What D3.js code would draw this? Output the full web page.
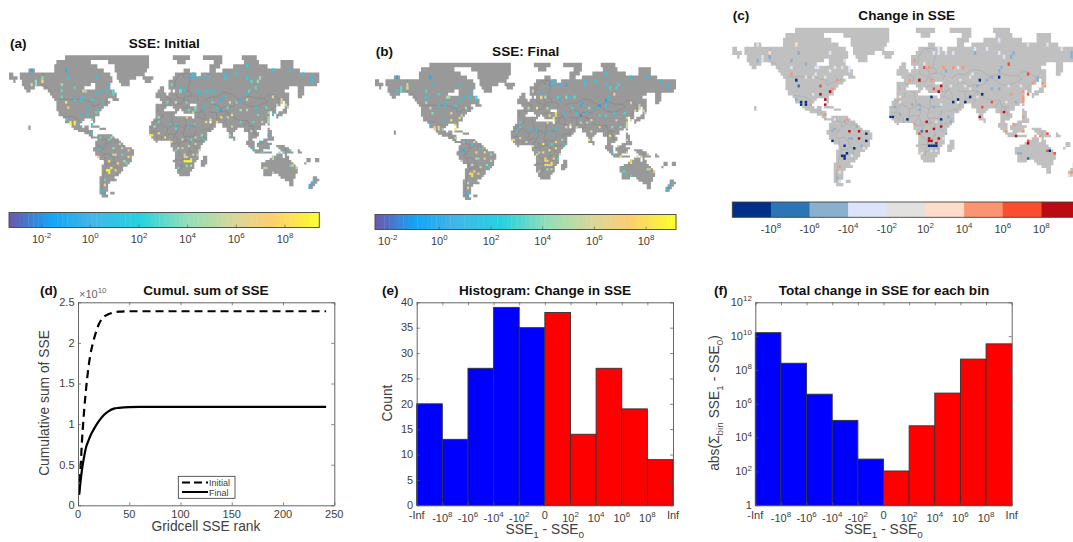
<!DOCTYPE html>
<html>
<head>
<meta charset="utf-8">
<script src="https://cdn.jsdelivr.net/npm/d3@7"></script>
<style>
body { margin: 0; background: #fff; }
svg { display: block; font-family: "Liberation Sans", Arial, sans-serif; }
</style>
</head>
<body>
<svg id="fig" width="1073" height="542"></svg>
<script>
// ---- chart values ----
const rankInitial = [1, 2, 3, 4, 5, 6, 8, 10, 12, 15, 18, 20, 23, 26, 30, 35, 40, 50, 242];
const cumInitial = [0.13, 0.34, 0.58, 0.82, 1.0, 1.17, 1.45, 1.68, 1.85, 2.02, 2.15, 2.22, 2.29, 2.33, 2.355, 2.375, 2.385, 2.39, 2.39];
const rankFinal = [1, 2, 3, 4, 5, 6, 8, 10, 13, 16, 20, 25, 30, 35, 40, 50, 60, 242];
const cumFinal = [0.13, 0.24, 0.35, 0.45, 0.53, 0.6, 0.72, 0.79, 0.88, 0.95, 1.03, 1.11, 1.16, 1.19, 1.2, 1.21, 1.212, 1.212];

const binEdgeLabels = ["-Inf", "-10^{8}", "-10^{6}", "-10^{4}", "-10^{2}", "0", "10^{2}", "10^{4}", "10^{6}", "10^{8}", "Inf"];
const binCounts = [20, 13, 27, 39, 35, 38, 14, 27, 19, 9];
const binTotals = [1.6e10, 2.5e8, 3.7e6, 1.05e5, 540, 107, 5e4, 4.3e6, 4.4e8, 3.5e9];

const cumTicksX = [0, 50, 100, 150, 200, 250];
const cumTicksY = [0, 0.5, 1, 1.5, 2, 2.5];
const countTicks = [0, 5, 10, 15, 20, 25, 30, 35, 40];
const totalTicks = [1, 1e2, 1e4, 1e6, 1e8, 1e10, 1e12];

const sseBarTicks = [-2, 0, 2, 4, 6, 8];
const changeBarLabels = ["-10^{8}", "-10^{6}", "-10^{4}", "-10^{2}", "10^{2}", "10^{4}", "10^{6}", "10^{8}"];
const changeThresholds = [-8, -6, -4, -2, 2, 4, 6, 8];
const changeColors = ["#002f87", "#2b75b5", "#8ab0d0", "#dce4fa", "#e2e1df", "#fedcc9", "#fb9470", "#fb4d2f", "#bb0a12"];
const sseStops = [0, 0.13, 0.26, 0.42, 0.57, 0.73, 0.85, 1];
const sseStopColors = ["#6b5bb0", "#12a6f5", "#42b5e8", "#24d2e0", "#90dfb8", "#d9d79a", "#fdcd70", "#fcfc30"];

// gridcells: lon, lat, log10 SSE initial, log10 SSE final, signed log10 change
const northAmericaCells = [
  [-153,71,-0.8,-0.5,0], [-115,71,-0.7,-0.5,3], [-111,66,1.5,0.5,-5], [-141,66,4,5.5,3],
  [-141,64,6.8,5,-5], [-141,62.5,7,5.5,-5], [-150,64,4,3.5,-3], [-154,61,6.2,2,-5],
  [-150,61,4,3.5,0], [-118,61,4.2,3,-5], [-103,59,3,3,-5], [-79,66,1,1.5,-3],
  [-120,55,3,2.5,-3], [-94,55,5.5,5,-3], [-91,55,5.5,4.5,-3], [-74,57,0.5,0.8,0],
  [-67,57,1.5,2,0], [-79,53.5,1.5,1.5,-3], [-58,55,2,2,-3], [-58,52.5,3,2,-3],
  [-95,51,1.5,1.5,-3], [-120,50,3,5,5], [-103,49.7,1.5,2,0], [-97,49.7,1.5,1.5,0],
  [-71,46,1.8,5,5], [-113,46,8.2,6,-9], [-111,41,6.8,4,-7], [-88,41,0.3,6.5,7],
  [-75.5,38.5,2,5,5], [-78,35,3,8,9], [-88,33,2,8.5,9], [-96,33,0,1,0],
  [-83,29,4,8,9], [-83,23.5,1.5,8,9], [-115,29.5,3,2,-5], [-108,26,8.8,7,-9],
  [-105,26,9,7,-9], [-108,23.5,9,7,-9], [-104,24,8.6,6.5,-9], [-98,24,1,5,5],
  [-83,14.5,2,5,5], [-61,9,4,6,5], [-65,60,0.3,0.6,0], [-85,48,2.2,2.5,0]
];
const southAmericaCells = [
  [-73,8,3,3,-3], [-63,5,3,2,-5], [-52,2,5,3,-5], [-75,-2,-0.2,-0.3,-5],
  [-76,-4,0.5,0.5,-5], [-77,-14,8,5,-9], [-60,-3,4,8,8], [-50,-3,5,8,9], [-42,-7,7,4,-9],
  [-60,-11,6,5,-6], [-56,-11,6,4,-6], [-50,-12,3,7,8], [-42,-14,8,5,-9], [-65,-20,8.5,6,-9],
  [-55,-22,8.2,5,-9], [-47,-19,5,4,-5], [-61,-26,9.3,7,-9], [-63,-28,9.4,7.5,-9],
  [-65,-31,9.4,8,-9], [-66,-29,9.4,8,-9], [-57,-30,7,7,-4], [-70,-40,3,5,5], [-72,-50,1.5,0.5,-5],
  [-70,-45,6,6,0], [-68,-52,-0.5,0,0], [-44,-22,3,2.5,0]
];
const africaCells = [
  [-7,31,4,3,3], [-6,27,3,3,3], [-12,21,4,2,-5], [-15,12,8.5,7,-9], [-16,10,9,7,-9],
  [-6,13,7,6,-6], [2,9.5,8.5,6,-9], [7,23.5,2,1,-6], [13,23.5,2,1,-6], [14,19.5,3,1,-6],
  [28,20,2,2,-5], [36,24,2.5,2,-3], [21,5,5,8.5,9], [37,8,5,8,-9], [37,1,5,8.5,9],
  [31,6,3,3,0], [29,-2,5,8.5,9], [21,-4,5,8,9], [16,-5,6,5,-8], [14,-7,3,6,6],
  [24,-12,6,8,8], [24,-14,7,8,8], [34,-11,6,8,8], [26,-15,6,8,8], [32,-17,6,8.5,9],
  [23,-20,9.4,8,-9], [25.5,-20,9.4,8,-9], [28,-20,9.4,7.5,-9], [30,-20,9.2,7,-9],
  [17,-26,3,5,3], [25,-24,4,5,0], [30,-23,5,5,0], [8,3,7,6,5],
  [40,-6,6,5,-5], [38,-11,5,3,0], [46,7,2,2,-5], [44,12,4,4,-6]
];
const eurasiaCells = [
  [8,61,3,5,5], [18,58,1,1,0], [18,55,3,7,7], [24,57,1.5,5,5], [4,45,3,5,5], [14,45,5,8.5,9],
  [27,45,3,5,5], [36,41,4,8.5,9], [29,37.5,3,7,7], [33,35,5,8.5,9], [37,37.5,3,6,5],
  [27,31,8,6,-9], [33,69.5,1,1.3,-3], [28,65.5,-0.3,0,-3], [33,65.5,0.5,0.8,-3], [40,65.5,0.4,0.6,-3],
  [49,65.5,0,-0.3,-3], [70,69,1,1,-3], [70,66.5,2,2,-5], [84,69,2,2,-3], [97,74,2,2,-3],
  [95,66,2,2,-3], [100,63.5,3,3,-3], [111,66,4,3,-5], [108,63.5,4,3,-5], [106,59,3,6,6], [98,57,3,2,-5],
  [171,66,1,1,-5], [171,63.5,1,1,-5], [160,68,1.5,1.5,0], [125,70,1.5,1.5,0], [145,71,1,1,0],
  [39,55,1,3,5], [49,55,2,4,5], [54,57,1,1,-3], [59,57,1,3.5,5], [41,53,0.5,0.3,-5], [68,52,0,0,-3],
  [65,48,-0.3,0,0], [74,41,3,1,-6], [76,45,6,4,-9], [84,45,3,1,-6], [88,49,0,-1,-5], [95,49,5,2,-9],
  [95,52.5,1,-1,-6], [88,39.5,5,3,-5], [95,39.5,5,3,-5], [126,51.5,6.5,7,7], [136,48,6,5,-5],
  [136,46,7,6,-5], [131,43,5,6,5], [141,43,5,6,5], [143,41,5,5,5], [118,41,3,3,0], [107,42,2,2,0],
  [121,35,4,6,5], [126.5,33,1,7,7], [121,31,5,6,5], [121,28,5,6,5], [121,26,4,5,5],
  [108,33,3,5,5], [104,26,3,4,3], [113,26,5,4,-5], [89,26,3,7,7], [79,21.5,5,6,6],
  [76.5,11,4,8.5,9], [101,17,5,8.5,9], [121,11,0.5,5,5], [49,26,8,6,-9], [54,28.5,8,6,-9],
  [62,26,8,5,-9], [67,32,8,5,-9], [79,33,8.5,6,-9], [74,30,5,5,0], [60,40,2,2,0],
  [66,38,-1.3,-1.5,0], [46,40,1,1,0], [56,45,3,3,0]
];
const oceaniaCells = [
  [112,3,1,5,5], [121,-5,0.5,5,5], [113,-9,3,8,8], [133,-9,4,6,5], [139,-10,3,6,5],
  [146,-7,3,7,7], [126,-13,5,7,7], [126,-16,5,8.5,9], [145,-23,3,6,6], [147.5,-23,8,5,-9],
  [153,-27,5,7.5,7], [117,-27,5,3,-5], [119.5,-27,5,3,-5], [126,-31,5,3,-7],
  [173,-38,0,0.5,3], [171,-43,-0.6,-0.5,4], [168,-46,0,0.3,3], [103,-3,2,2,5]
];

// land outline, lon/lat
const landPolygons = [
  // north america
  [[-168,65.5],[-166,68.5],[-162,67],[-157,71],[-141,69.7],[-128,70],[-115,68],[-108,68],[-95,68],[-94,72],[-88,68],[-82,69],[-78,67],[-73,62],[-70,61],[-65,60],[-64,58],[-61,56],[-56,52.5],[-60,50],[-66,50],[-70,47],[-65,49],[-65,47],[-61,46],[-66,44],[-70,43.5],[-71,41.5],[-74,40.5],[-76,37],[-75.5,35],[-79,33],[-81,31],[-80,27],[-81,25],[-82.5,28],[-84,30],[-89,30],[-94,29.5],[-97,27.5],[-97.5,22],[-95,18.5],[-91,18.5],[-90.5,21],[-87,21.5],[-88,16],[-84,15.5],[-83.5,11],[-81,9],[-77.5,8.5],[-78,7.5],[-81,7.5],[-85,10],[-88,13],[-94,16],[-100,17],[-105,20],[-106,23],[-110,27.5],[-113,31],[-115,31],[-112,26],[-109.5,23],[-112,25],[-115,29],[-117,32.5],[-120.5,34.5],[-124,40],[-124.5,48],[-128,51],[-132,55],[-137,59],[-145,60.5],[-150,60],[-153,58],[-160,55],[-158,58],[-162,60],[-165,62],[-161,64],[-168,65.5]],
  // arctic canada
  [[-127,74],[-120,77],[-105,80],[-65,80],[-72,76],[-80,75],[-60,66],[-65,61],[-78,61],[-78,68],[-95,68],[-127,69]],
  [[-70,80],[-20,80],[-18,76],[-22,70],[-32,68],[-40,65],[-43,60],[-50,62],[-54,68],[-58,75],[-65,77]],
  [[-59,48],[-56,51.5],[-53,47]],
  [[-85,22],[-80,23],[-74,20],[-78,20]],
  [[-74,19.5],[-69,19.5],[-68.5,18.2],[-74,18.2]],
  [[-24,65.5],[-15,66.5],[-14,65],[-19,63.3],[-22,64]],
  [[-158,22],[-155,22],[-155,19]],
  [[-180,69],[-175,67.5],[-170,66],[-173,64.5],[-180,65]],
  // south america
  [[-77.5,8.5],[-75,11],[-71.5,12.5],[-68,11],[-62,10.5],[-57,6],[-52,5],[-50,1],[-44,-2.5],[-38,-4],[-35,-6],[-35,-9],[-39,-14],[-39,-18],[-41,-22],[-48,-25.5],[-48.5,-28],[-53,-33.5],[-58,-34.5],[-57,-38],[-62,-39],[-65,-41],[-65,-45],[-68,-50],[-68,-53],[-65,-55],[-71,-54],[-75,-50],[-73,-42],[-73,-37],[-71,-30],[-70,-18],[-76,-14],[-81,-6],[-80,-2],[-80,1],[-77.5,4]],
  [[-61,-51],[-58,-51],[-58,-52.5],[-61,-52.5]],
  // africa
  [[-6,35.8],[3,37],[10,37.3],[11,33.5],[15,32.3],[20,31],[20,33],[25,32],[32,31.3],[34,28],[37,21],[39,15.5],[43,11.5],[51,12],[49,7],[42,-1],[39,-6],[40.5,-15],[35,-20],[35,-24],[32.5,-28],[27,-34],[20,-35],[18,-33],[15,-27],[12,-18],[13.5,-10],[9,-1],[9.5,4],[5,5.5],[1,6],[-4,5],[-8,4.5],[-13,9],[-17.5,14.7],[-16,21],[-13,27],[-10,30]],
  [[49,-12.5],[50,-16],[47,-25],[44,-25],[43.5,-20],[45,-16]],
  // eurasia
  [[-9.5,37],[-9,43.5],[-2,43.5],[-1,46],[-4.5,48.3],[2,51],[8,54],[8,57],[10.5,57.5],[10,54],[14,54],[20,55],[21,58],[24,59.5],[29,60],[23,60],[21.5,63],[25,65.5],[22,65.7],[17.5,62],[18.5,60],[16.5,56.5],[13,55.5],[11,59],[6,58],[5,62],[14,68],[25,71],[31,70],[41,67],[40,65],[35,64.5],[44,66],[44,68],[55,68.5],[68,68.5],[67,72],[73,72.5],[74,68],[75,72],[87,74],[105,77.5],[113,74],[130,71],[140,72.5],[160,70],[170,70],[180,69],[180,65],[177,62.5],[170,60],[163,60],[162,56],[157,51],[155.5,57],[163,62],[156,61],[143,59.3],[135,54.5],[141,53],[135,44],[130,42.5],[127.5,39.5],[129.5,37],[127,34.5],[126,37],[125,39.5],[121,39],[118,39],[122,37],[119,35],[122,31],[120,26],[114,22.5],[108,21.5],[106,19],[109,13],[107,10.5],[105,9],[103,11],[100,13.5],[100,9],[104,1.5],[101,3],[98,8],[98,15],[94,16],[94,19],[91.5,22.5],[88,21.7],[85,19.5],[80,15],[80,11],[77.5,8],[75,13],[73,20],[69,22],[67,25],[61,25],[57,26],[56,27],[51,28],[48,30],[51,25],[54,24],[56,26],[60,22.5],[57,18.5],[52,16],[45,13],[43,13],[39,21],[35,28],[34.5,31],[36,36],[30,36.3],[27,37],[27,40],[32,41.8],[37,41],[41.5,41.5],[37,45],[38,47],[33,46],[30,46],[28,42],[26,40.5],[23,40],[23,36.5],[20,40],[14,45],[12,44],[16,41],[18.5,40],[16,38],[12,42],[8,44],[3,43],[0,39.5],[-2,36.7],[-5.5,36]],
  [[11,80],[30,80],[25,77],[15,77]],
  [[45,80],[68,80],[60,78],[50,78]],
  [[52,71],[55,75],[68,77.5],[65,75],[57,70.5]],
  [[89,80],[108,80],[105,78],[95,78]],
  [[137,76],[150,76],[150,74],[137,74]],
  [[142,54],[143.5,54],[143,47],[142,46]],
  [[130,33],[131,31],[136,34],[141,36],[142,40],[141,45.5],[145,44],[141,41.5],[139,38],[135,36],[130,34]],
  [[120,25],[122,25],[121,22]],
  [[108.5,20],[111,20],[110,18]],
  [[80,9.5],[82,7.5],[80.5,6]],
  [[-5.5,50],[1.5,51.2],[1.5,53],[-2,56],[-2,58],[-5,58.5],[-6,56],[-3,54],[-5,52]],
  [[-10,52],[-6,52],[-6,55.3],[-10,54]],
  [[12.5,38],[15.5,38],[15,36.8]],
  [[8,41],[9.5,41],[9.5,39],[8,39]],
  // maritime asia, oceania
  [[120,18.5],[122.5,18.5],[124,13],[126,9],[126,6],[122,7],[120.5,14]],
  [[109,1.5],[114,4],[117,7],[119,5],[118,1],[116,-4],[110,-3]],
  [[95,5.5],[98,4],[104,-2],[106,-6],[102,-5],[98,0]],
  [[105,-6],[114,-7],[114.5,-8.5],[106,-8]],
  [[119,-5],[120,1.5],[125,1.5],[122,-1],[123,-5]],
  [[131,-1],[141,-2.5],[147,-6],[151,-10.5],[143,-9],[138,-8],[133,-4]],
  [[116,-8],[125,-8],[125,-10],[116,-9.5]],
  [[114,-22],[122,-18],[126,-14],[130,-12],[136,-12],[136,-15],[140,-17.5],[142,-11],[146,-19],[153,-26],[153,-31],[150,-37.5],[146,-39],[140,-38],[136,-35],[131,-31.5],[124,-33],[116,-35],[115,-31]],
  [[144.5,-40.5],[148.5,-40.5],[148,-43.5],[146,-43.5]],
  [[173,-34.5],[178.5,-37.5],[175,-41.5],[174,-39]],
  [[172.5,-40.5],[174,-42],[170,-46.5],[166.5,-46]],
  [[155,-6],[161,-9],[160,-10],[156,-8]],
  [[167,-15],[168,-15],[168.5,-18],[167,-18]],
  [[177,-17],[179,-17],[179,-19],[177,-19]],
  [[164,-20],[167,-22],[166.5,-22.5],[164,-21]]
];
// inland water and channels that stay white on the grid
const waterPolygons = [
  [[-92,61],[-80,61.5],[-80,57],[-85,56.5],[-92,58]],
  [[-92,71],[-87,71],[-87,69],[-92,69]],
  [[-85,76.5],[-70,76.5],[-62,72],[-80,74]]
];
const borderLines = [
  [[-141,69.7],[-141,60],[-135,59],[-130,55]], [[-123,49],[-95,49],[-83,46],[-82,42],[-76,44],[-70,46],[-67,47],[-67,45]],
  [[-117,32.5],[-106,31.7],[-101,29.5],[-97,26]], [[-92,14.5],[-91,18],[-88,18]], [[-88,16],[-89,14]], [[-83,15],[-87,13]], [[-84,11],[-86,11]], [[-83,10],[-83,8]],
  [[-72,12],[-72,7],[-67,6],[-67,1.5]], [[-60,5],[-64,2],[-67,1.5],[-70,-4],[-74,-7.5],[-70,-11],[-65,-10],[-60,-14],[-58,-20],[-55,-24],[-54,-27],[-57,-30],[-53.5,-33.5]],
  [[-80,-3.5],[-75,-1],[-70,-4]], [[-78.5,1.5],[-75,-1]], [[-70,-11],[-69,-17],[-70,-18]], [[-69,-17],[-67,-23],[-70,-33],[-72,-45],[-72,-52]], [[-67,-23],[-62,-22],[-58,-20]], [[-62,-22],[-57.5,-25],[-54.5,-26]],
  [[-60,8],[-60,5]], [[-57,6],[-57,2]], [[-54,6],[-54,2]],
  [[-2,35],[-1,32],[-8.5,28],[-13,27.5]], [[8.5,37],[8,32],[9.5,30]], [[9.5,30],[10,25],[12,23.5]], [[25,32],[25,22]], [[25,22],[37,22]], [[12,23.5],[15,23],[24,19.5],[25,22]],
  [[-12,15],[-5,25],[-8.5,27]], [[-5,25],[4,19],[12,23.5]], [[4,19],[3.5,15],[1,13]], [[3.5,12],[14,13]], [[15,23],[15.5,16],[13.5,13.5]], [[24,19.5],[22,13],[23,10]],
  [[14,10],[15,7.5],[22,4],[27,5],[23,10]], [[24,10],[34,10],[36,14],[37,18]], [[34,10],[36,4.5],[42,4],[48,8],[43,11]], [[34,-1],[39.5,-4.7]], [[36,4.5],[34,-1]],
  [[30,4],[30,-1],[29,-4.5],[31,-8.5],[28.5,-8],[28,-12],[22,-11],[22,-13],[12.5,-6]], [[27,5],[18,3.5],[17,-1],[14,-4.5],[12.5,-6]], [[12,-17],[23,-18],[25,-18]], [[22,-13],[22,-18]], [[25,-18],[33,-14],[33,-9.5]],
  [[17,-29],[20,-28],[20,-22],[25,-18]], [[20,-25],[29,-22],[32,-22]], [[33,-14],[30,-16],[33,-20],[32,-26]], [[40,-10.5],[35,-11.5],[33,-9.5]], [[-16,16.5],[-12,15]], [[-17,21],[-13,21],[-13,23],[-8.5,27]], [[-12,15],[-5.5,15.5]],
  [[-12,12.5],[-8,10],[-8,7.5]], [[-3,11],[-3,5]], [[1,11],[1.5,6]], [[3,12],[3,6.5]], [[14,13],[9,5]], [[9.5,2.3],[16,2],[15,7.5]],
  [[-1.5,43.3],[3,42.5]], [[-7,37],[-7,42]], [[2.5,51],[6,49.5],[8,49],[7.5,47.5],[6.5,44]], [[14,54],[15,51]], [[15,51],[23,49]], [[23,54],[24,51],[23,49]], [[38,47],[40,50],[34,52],[31,52],[24,51]], [[28,56],[31,55],[31,52]], [[28,60],[28,56],[21,55.5],[23,54]],
  [[29,60],[30,65],[29,69],[25,69],[21,69],[24,66]], [[12,59],[13,64],[18,68.5],[21,69]], [[14,45],[20,45],[22,48],[27,48],[30,46]], [[20,40],[22,41],[26,41],[28,42]],
  [[47,48],[53,51],[61,51],[69,55],[77,54],[87,49]], [[52,42],[56,45],[60,44],[66,41],[70,42],[80,42],[87,49]], [[53,37],[61,36],[66,37.5],[74,37]], [[87,49],[97,43],[105,42],[112,44],[120,47],[116,50],[107,50],[98,52],[87,49]], [[116,50],[120,53],[126,53],[135,48],[131,43]],
  [[124.5,40],[130,42.5]], [[126,38],[128.5,38.5]], [[74,37],[80,31],[88,28],[97,28],[99,22],[102,22],[107,21.5]], [[74,37],[74,32],[70,26],[68.5,23.5]], [[61,29.5],[66,29.5],[70,33],[74,37]], [[44,39],[47,35],[48,30]], [[61,36],[61,25]],
  [[39,32],[42,37],[44,37]], [[39,32],[46,29],[48,30]], [[36,30],[39,32]], [[43,17],[52,19],[53,16.5]], [[52,19],[55,22],[56,25]], [[36,36],[42,37],[44,39],[41.5,41.5]], [[94,24],[97,28]], [[94,24],[92,21]], [[99,22],[98,15]], [[101,20],[105,15],[103,11]],
  [[102,22],[105,15],[107,11]], [[141,-2.5],[141,-9]], [[110,1],[116,4]]
];

// ---- layout ----
const svg = d3.select("#fig");
const inkDark = "#404040";
const titleFont = 13.6;
const tickFont = 11;
const labelFont = 13.8;
const cellStep = 2.5;

// writes text with ^{..} and _{..} parts as shifted tspans
function richText(node, str, fontSize) {
  const parts = str.split(/([\^_]\{[^}]*\})/).filter(s => s.length);
  let pending = 0;
  parts.forEach(p => {
    const t = node.append("tspan");
    if (p[0] === "^" || p[0] === "_") {
      const shift = p[0] === "^" ? -fontSize * 0.42 : fontSize * 0.3;
      t.attr("dy", shift + pending).attr("font-size", fontSize * 0.72).text(p.slice(2, -1));
      pending = -shift;
    } else {
      if (pending) t.attr("dy", pending);
      t.text(p);
      pending = 0;
    }
  });
  return node;
}

function putText(x, y, str, opts = {}) {
  const size = opts.size || tickFont;
  const node = svg.append("text")
    .attr("x", x).attr("y", y)
    .attr("font-size", size)
    .attr("text-anchor", opts.anchor || "middle")
    .attr("fill", opts.fill || inkDark)
    .attr("font-weight", opts.bold ? "bold" : null);
  if (opts.rotate) node.attr("transform", `rotate(-90 ${x} ${y})`);
  return richText(node, str, size);
}

function panelTitle(tag, tagX, title, titleX, y) {
  putText(tagX, y, tag, { size: titleFont, bold: true, anchor: "start", fill: "#111" });
  putText(titleX, y, title, { size: titleFont, bold: true, fill: "#111" });
}

// ---- maps ----
const millerY = lat => 1.25 * Math.log(Math.tan(Math.PI / 4 + 0.4 * lat * Math.PI / 180));
const allCells = [...northAmericaCells, ...southAmericaCells, ...africaCells, ...eurasiaCells, ...oceaniaCells];

// rasterise the outline on the model grid, a cell is land when any sample lands on a polygon
const landCells = [];
const inAny = (polys, p) => polys.some(poly => d3.polygonContains(poly, p));
for (let lon = -180; lon < 180; lon += cellStep) {
  for (let lat = -57.5; lat < 80; lat += cellStep) {
    const cx = lon + cellStep / 2, cy = lat + cellStep / 2;
    const samples = [[cx, cy], [cx - 0.8, cy - 0.8], [cx + 0.8, cy - 0.8], [cx - 0.8, cy + 0.8], [cx + 0.8, cy + 0.8]];
    if (inAny(waterPolygons, [cx, cy])) continue;
    if (samples.some(s => inAny(landPolygons, s))) landCells.push([lon, lat]);
  }
}

const sseRamp = d3.scaleLinear().domain(sseStops).range(sseStopColors).interpolate(d3.interpolateRgb);
const changeColor = d3.scaleThreshold().domain(changeThresholds).range(changeColors);
const blur = svg.append("defs").append("filter").attr("id", "soft");
blur.append("feGaussianBlur").attr("stdDeviation", 0.3);

function drawMap(box, landFill, borderFill, cellColor) {
  const x = d3.scaleLinear().domain([-180, 180]).range([box.left, box.right]);
  const y = d3.scaleLinear().domain([0, 1]).range([box.equator, box.equator - box.yScale]);
  const g = svg.append("g").attr("filter", "url(#soft)");
  const cellRect = (p, lon, lat) => {
    const y0 = y(millerY(lat + cellStep)), y1 = y(millerY(lat));
    p.rect(x(lon), y0, x(lon + cellStep) - x(lon), y1 - y0);
  };
  const land = d3.path();
  landCells.forEach(c => cellRect(land, c[0], c[1]));
  g.append("path").attr("d", land.toString()).attr("fill", landFill);

  const border = d3.line().x(d => x(d[0])).y(d => y(millerY(d[1])));
  g.selectAll("path.border").data(borderLines).join("path")
    .attr("class", "border").attr("d", border)
    .attr("fill", "none").attr("stroke", borderFill).attr("stroke-width", 0.6);

  g.selectAll("rect.cell").data(allCells).join("rect")
    .attr("class", "cell")
    .attr("x", d => x(Math.floor(d[0] / cellStep) * cellStep))
    .attr("y", d => y(millerY(Math.floor(d[1] / cellStep) * cellStep + cellStep)))
    .attr("width", x(cellStep) - x(0))
    .attr("height", d => {
      const lat = Math.floor(d[1] / cellStep) * cellStep;
      return y(millerY(lat)) - y(millerY(lat + cellStep));
    })
    .attr("fill", cellColor);
}

function sseBar(box, barTop, barHeight, minLog, maxLog) {
  const x = d3.scaleLinear().domain([minLog, maxLog]).range([box.left, box.right]);
  const levels = d3.range(64);
  const w = (box.right - box.left) / 64;
  svg.append("g").selectAll("rect").data(levels).join("rect")
    .attr("x", d => box.left + d * w).attr("y", barTop)
    .attr("width", w + 0.4).attr("height", barHeight)
    .attr("fill", d => sseRamp(d / 63));
  svg.append("rect").attr("x", box.left).attr("y", barTop)
    .attr("width", box.right - box.left).attr("height", barHeight)
    .attr("fill", "none").attr("stroke", "#444").attr("stroke-width", 0.9);
  sseBarTicks.forEach(t => {
    svg.append("line").attr("x1", x(t)).attr("x2", x(t))
      .attr("y1", barTop + barHeight).attr("y2", barTop + barHeight - 3)
      .attr("stroke", "#555").attr("stroke-width", 0.6);
    putText(x(t), barTop + barHeight + 15, `10^{${t}}`);
  });
}

const boxA = { left: 9, right: 319.3, equator: 145, yScale: 49 };
const boxB = { left: 375, right: 676, equator: 149.3, yScale: 47.3 };
const boxC = { left: 732.3, right: 1080, equator: 127.7, yScale: 54.6 };

panelTitle("(a)", 10, "SSE: Initial", 164.3, 48);
drawMap(boxA, "#999999", "#858585", d => sseRamp((d[2] + 3.34) / 12.75));
sseBar(boxA, 212.5, 15, -3.34, 9.41);

panelTitle("(b)", 375.7, "SSE: Final", 525.7, 56);
drawMap(boxB, "#999999", "#858585", d => sseRamp((d[3] + 2.49) / 11.65));
sseBar(boxB, 214.5, 15, -2.49, 9.16);

panelTitle("(c)", 732.7, "Change in SSE", 906.7, 20);
drawMap(boxC, "#c0c0c0", "#a8a8a8", d => changeColor(d[4]));
{
  const x = d3.scaleBand().domain(changeColors).range([boxC.left, boxC.right]);
  svg.append("g").selectAll("rect").data(changeColors).join("rect")
    .attr("x", d => x(d)).attr("y", 202).attr("width", x.bandwidth() + 0.4).attr("height", 15.3)
    .attr("fill", d => d);
  svg.append("rect").attr("x", boxC.left).attr("y", 202)
    .attr("width", boxC.right - boxC.left).attr("height", 15.3)
    .attr("fill", "none").attr("stroke", "#444").attr("stroke-width", 0.9);
  changeBarLabels.forEach((label, i) => {
    putText(boxC.left + (i + 1) * x.bandwidth(), 233, label);
  });
}

// ---- bottom row ----
const plotTop = 302.3, plotBottom = 505.3;

function frame(xScale, yScale, xTicks, yTicks, yFormat) {
  const g = svg.append("g");
  const [x0, x1] = xScale.range();
  const styleAxis = a => {
    a.selectAll("path").attr("stroke", "#555").attr("stroke-width", 0.9);
    a.selectAll("line").attr("stroke", "#555").attr("stroke-width", 0.7);
    a.selectAll("text").remove();
  };
  g.append("g").attr("transform", `translate(0,${plotBottom})`)
    .call(d3.axisBottom(xScale).tickValues(xTicks).tickSizeInner(-3).tickSizeOuter(0)).call(styleAxis);
  g.append("g").attr("transform", `translate(0,${plotTop})`)
    .call(d3.axisTop(xScale).tickValues(xTicks).tickSizeInner(-3).tickSizeOuter(0)).call(styleAxis);
  g.append("g").attr("transform", `translate(${x0},0)`)
    .call(d3.axisLeft(yScale).tickValues(yTicks).tickSizeInner(-3).tickSizeOuter(0)).call(styleAxis);
  g.append("g").attr("transform", `translate(${x1},0)`)
    .call(d3.axisRight(yScale).tickValues(yTicks).tickSizeInner(-3).tickSizeOuter(0)).call(styleAxis);
  yTicks.forEach(t => putText(x0 - 3.5, yScale(t) + 3.8, yFormat(t), { anchor: "end" }));
}

// (d)
const xRank = d3.scaleLinear().domain([0, 250]).range([78, 334.3]);
const yCum = d3.scaleLinear().domain([0, 2.5]).range([plotBottom, plotTop]);
const cumLine = (xs, ys) => d3.line().curve(d3.curveMonotoneX).x(i => xRank(xs[i])).y(i => yCum(ys[i]))(d3.range(xs.length));
svg.append("path").attr("d", cumLine(rankInitial, cumInitial))
  .attr("fill", "none").attr("stroke", "#000").attr("stroke-width", 2.2).attr("stroke-dasharray", "8 5");
svg.append("path").attr("d", cumLine(rankFinal, cumFinal))
  .attr("fill", "none").attr("stroke", "#000").attr("stroke-width", 2.2);
frame(xRank, yCum, cumTicksX, cumTicksY, d => String(d));
cumTicksX.forEach(t => putText(xRank(t), 518, String(t)));
panelTitle("(d)", 40, "Cumul. sum of SSE", 206, 295);
putText(79, 298, "\u00d710^{10}", { anchor: "start", fill: "#666" });
putText(49, 403, "Cumulative sum of SSE", { size: labelFont, rotate: true });
putText(206, 531, "Gridcell SSE rank", { size: labelFont });

// legend
svg.append("rect").attr("x", 178.3).attr("y", 476.3).attr("width", 56.7).attr("height", 22)
  .attr("fill", "#fff").attr("stroke", "#333").attr("stroke-width", 0.8);
svg.append("line").attr("x1", 182).attr("x2", 208).attr("y1", 482.5).attr("y2", 482.5)
  .attr("stroke", "#000").attr("stroke-width", 2).attr("stroke-dasharray", "8 4");
svg.append("line").attr("x1", 182).attr("x2", 208).attr("y1", 492).attr("y2", 492)
  .attr("stroke", "#000").attr("stroke-width", 2);
putText(209, 486, "Initial", { size: 9, anchor: "start" });
putText(209, 495.5, "Final", { size: 9, anchor: "start" });

// histogram style panels share the same bins
function binPanel(left, right, yScale, values, yTicks, yFormat, tag, tagX, title, titleX) {
  const x = d3.scaleLinear().domain([0, binEdgeLabels.length - 1]).range([left, right]);
  svg.append("g").selectAll("rect").data(values).join("rect")
    .attr("x", (d, i) => x(i)).attr("y", d => yScale(d))
    .attr("width", x(1) - x(0)).attr("height", d => plotBottom - yScale(d))
    .attr("fill", (d, i) => i < 5 ? "#0000ff" : "#ff0000")
    .attr("stroke", "#333").attr("stroke-width", 0.9);
  frame(x, yScale, d3.range(binEdgeLabels.length), yTicks, yFormat);
  binEdgeLabels.forEach((label, i) => {
    const plain = !label.includes("^");
    putText(x(i), plain ? 518.5 : 522, label);
  });
  panelTitle(tag, tagX, title, titleX, 295);
  putText((left + right) / 2, 534, "SSE_{1} - SSE_{0}", { size: labelFont });
}

const yCount = d3.scaleLinear().domain([0, 40]).range([plotBottom, plotTop]);
binPanel(416.7, 673, yCount, binCounts, countTicks, d => String(d), "(e)", 382, "Histogram: Change in SSE", 545);
putText(392, 403, "Count", { size: labelFont, rotate: true });

const yTotal = d3.scaleLog().domain([1, 1e12]).range([plotBottom, plotTop]);
binPanel(755.3, 1011.7, yTotal, binTotals, totalTicks,
  d => d === 1 ? "1" : `10^{${Math.round(Math.log10(d))}}`, "(f)", 714, "Total change in SSE for each bin", 884);
putText(719, 403, "abs(\u03a3_{bin} SSE_{1} - SSE_{0})", { size: labelFont, rotate: true });
</script>
</body>
</html>
